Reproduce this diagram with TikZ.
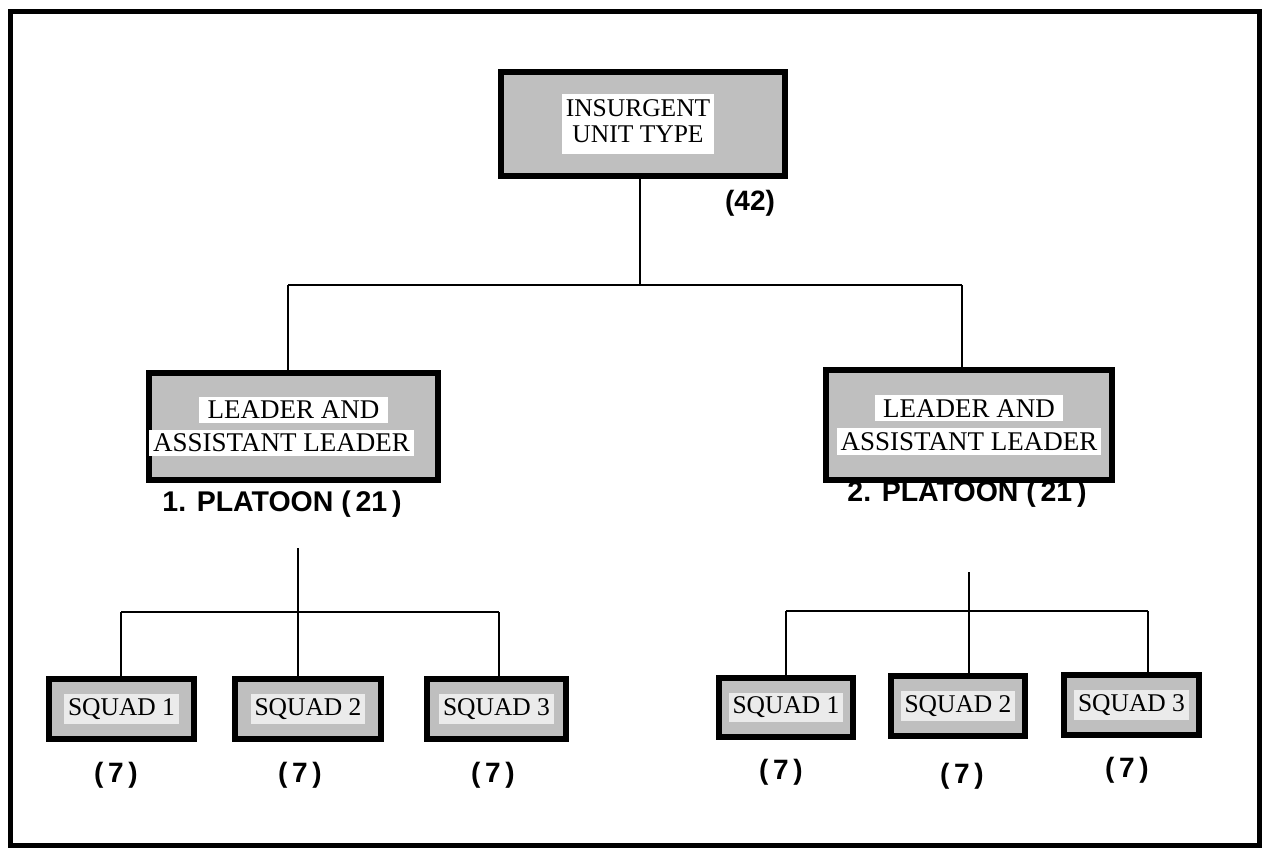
\documentclass[tikz,border=0pt]{standalone}
\usepackage{fontspec}
\setmainfont{Liberation Serif}
\setsansfont{Liberation Sans}
\begin{document}
\begin{tikzpicture}[x=1pt,y=-1pt,
  box/.style={draw=black,line width=6pt,fill=black!25,inner sep=0pt,align=center},
  topfont/.style={font=\fontsize{25.5}{26}\selectfont},
  leadfont/.style={font=\fontsize{27}{33}\selectfont},
  squadfont/.style={font=\fontsize{25.5}{28}\selectfont},
  conn/.style={line width=1.3pt},
  lbl/.style={font=\sffamily\bfseries\fontsize{28}{30}\selectfont,inner sep=0pt},
  plbl/.style={font=\sffamily\bfseries\fontsize{28.5}{30}\selectfont,inner sep=0pt}]
\useasboundingbox (0,0) rectangle (1263,848);
\fill[white] (0,0) rectangle (1263,848);
\draw[line width=5pt] (10,12) rectangle (1259,845);
\setlength{\fboxsep}{4pt}
% top
\node[box,topfont,minimum width=284pt,minimum height=104pt] (top) at (643,124)
  {\hspace*{-10pt}\colorbox{white}{\begin{tabular}{@{}c@{}}INSURGENT\\UNIT TYPE\end{tabular}}};
\node[lbl] (n42) at (750,203) {(42)};
% leaders
\node[box,leadfont,minimum width=285pt,minimum height=107pt] (lead1) at (293.5,426.5)
  {\colorbox{white}{\,LEADER AND\,}\\\colorbox{white}{ASSISTANT LEADER}\hspace*{24pt}};
\node[box,leadfont,minimum width=286pt,minimum height=110pt] (lead2) at (969,425)
  {\colorbox{white}{\,LEADER AND\,}\\\colorbox{white}{ASSISTANT LEADER}};
\node[plbl] (p1) at (282,504) {1. PLATOON (\,21\,)};
\node[plbl] (p2) at (967,494) {2. PLATOON (\,21\,)};
% squads
\node[box,squadfont,minimum width=145pt,minimum height=60pt] (sqL1) at (121.5,709) {\colorbox{black!8}{SQUAD 1}};
\node[box,squadfont,minimum width=146pt,minimum height=60pt] (sqL2) at (308,709) {\colorbox{black!8}{SQUAD 2}};
\node[box,squadfont,minimum width=139pt,minimum height=60pt] (sqL3) at (496.5,709) {\colorbox{black!8}{SQUAD 3}};
\node[box,squadfont,minimum width=134pt,minimum height=59pt] (sqR1) at (786,707.5) {\colorbox{black!8}{SQUAD 1}};
\node[box,squadfont,minimum width=134pt,minimum height=60pt] (sqR2) at (958,706) {\colorbox{black!8}{SQUAD 2}};
\node[box,squadfont,minimum width=135pt,minimum height=60pt] (sqR3) at (1131.5,705) {\colorbox{black!8}{SQUAD 3}};
\node[lbl] (c1) at (116,775) {(\,7\,)};
\node[lbl] (c2) at (300,775) {(\,7\,)};
\node[lbl] (c3) at (493,775) {(\,7\,)};
\node[lbl] (c4) at (781,772) {(\,7\,)};
\node[lbl] (c5) at (962,776) {(\,7\,)};
\node[lbl] (c6) at (1127,770) {(\,7\,)};
% connectors top level
\coordinate (j0) at (640,285);
\coordinate (jL) at (288,285);
\coordinate (jR) at (962,285);
\draw[conn] (top.south -| j0) -- (j0);
\draw[conn] (jL) -- (jR);
\draw[conn] (jL) -- (jL |- lead1.north);
\draw[conn] (jR) -- (jR |- lead2.north);
% left squads
\coordinate (sL) at (298,548);
\coordinate (hL1) at (121,612);
\coordinate (hL3) at (499,612);
\draw[conn] (sL) -- (sL |- sqL2.north);
\draw[conn] (hL1) -- (hL3);
\draw[conn] (hL1) -- (hL1 |- sqL1.north);
\draw[conn] (hL3) -- (hL3 |- sqL3.north);
% right squads
\coordinate (sR) at (969,572);
\coordinate (hR1) at (786,611);
\coordinate (hR3) at (1148,611);
\draw[conn] (sR) -- (sR |- sqR2.north);
\draw[conn] (hR1) -- (hR3);
\draw[conn] (hR1) -- (hR1 |- sqR1.north);
\draw[conn] (hR3) -- (hR3 |- sqR3.north);
\end{tikzpicture}
\end{document}
